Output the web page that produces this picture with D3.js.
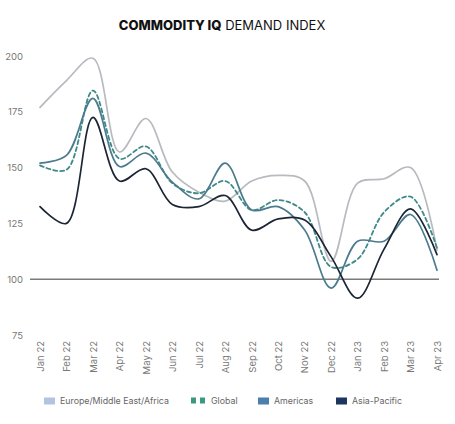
<!DOCTYPE html>
<html>
<head>
<meta charset="utf-8">
<script src="https://cdn.jsdelivr.net/npm/d3@7"></script>
<style>
  body { margin: 0; background: #fff; }
  svg { font-family: Inter, "Noto Sans", sans-serif; }
</style>
</head>
<body>
<div class="main"></div>
<script>
// month labels along the bottom
var months = ["Jan 22", "Feb 22", "Mar 22", "Apr 22", "May 22", "Jun 22", "Jul 22", "Aug 22",
              "Sep 22", "Oct 22", "Nov 22", "Dec 22", "Jan 23", "Feb 23", "Mar 23", "Apr 23"];
var yTicks = [75, 100, 125, 150, 175, 200];

// index values
var emea     = [177, 189, 199, 157, 172, 148, 139, 135, 144, 146.5, 144, 108, 143, 145, 150, 113];
var global   = [151, 149, 184.5, 154, 159.5, 143, 138.5, 144, 131, 135.5, 130, 105.5, 109, 130, 137, 114];
var americas = [152, 155.5, 181, 150.5, 156.5, 143.5, 136, 152, 131, 132.5, 122, 96, 117, 117, 129, 104];
var asiaPac  = [132.5, 125, 172.5, 144, 149.5, 133.5, 132.5, 137.5, 122, 127, 126.5, 110, 91.5, 113.5, 131.5, 111];

var series = [
  { name: "Europe/Middle East/Africa", values: emea,     color: "#b7babf", swatch: "#b3c3e2", dash: null },
  { name: "Global",                    values: global,   color: "#3f8a89", swatch: "#3a9a80", dash: "4,3" },
  { name: "Americas",                  values: americas, color: "#4c7b8e", swatch: "#4b7fae", dash: null },
  { name: "Asia-Pacific",              values: asiaPac,  color: "#1b2535", swatch: "#1e3560", dash: null }
];

var width = 455, height = 424;

var svg = d3.select(".main")
  .append("svg")
    .attr("width", width)
    .attr("height", height);

var x = d3.scalePoint()
  .domain(months)
  .range([40, 437]);

var y = d3.scaleLinear()
  .domain([75, 200])
  .range([335, 56]);

// title, bold part + regular part
var title = svg.append("text")
  .attr("x", 222)
  .attr("y", 30)
  .style("text-anchor", "middle")
  .style("font-size", "13px")
  .style("fill", "#111");
title.append("tspan").text("COMMODITY IQ").style("font-weight", "800");
title.append("tspan").text(" DEMAND INDEX").style("font-weight", "400");

// y axis, labels only
var yAxis = svg.append("g")
  .attr("transform", "translate(25,0)")
  .call(d3.axisLeft(y).tickValues(yTicks).tickSize(0).tickPadding(2));
yAxis.select(".domain").remove();
yAxis.selectAll("text")
  .style("font-size", "9.5px")
  .style("fill", "#777")
  .style("font-family", "Inter, sans-serif");

// baseline at 100
svg.append("line")
  .attr("x1", 30)
  .attr("x2", 439)
  .attr("y1", y(100))
  .attr("y2", y(100))
  .style("stroke", "#7b7b7b")
  .style("stroke-width", 1.6);

// x axis, rotated month labels
var xAxis = svg.append("g")
  .attr("transform", "translate(0,339)")
  .call(d3.axisBottom(x).tickSize(0).tickPadding(0));
xAxis.select(".domain").remove();
xAxis.selectAll("text")
  .attr("transform", "rotate(-90)")
  .attr("x", -2)
  .attr("y", 0)
  .attr("dy", "0.35em")
  .style("text-anchor", "end")
  .style("font-size", "9.5px")
  .style("fill", "#777")
  .style("font-family", "Inter, sans-serif");

var line = d3.line()
  .x(function(d, i) { return x(months[i]); })
  .y(function(d) { return y(d); })
  .curve(d3.curveCatmullRom.alpha(0.5));

svg.append("g")
  .selectAll("path")
  .data(series)
  .enter()
  .append("path")
    .attr("d", function(s) { return line(s.values); })
    .style("fill", "none")
    .style("stroke", function(s) { return s.color; })
    .style("stroke-width", function(s) { return s.dash ? 1.8 : 1.7; })
    .style("stroke-dasharray", function(s) { return s.dash; })
    .style("stroke-linecap", "round");

// legend
var legendX = [44, 191, 258, 336];
var legend = svg.append("g")
  .selectAll("g")
  .data(series)
  .enter()
  .append("g")
    .attr("transform", function(s, i) { return "translate(" + legendX[i] + ",401)"; });

legend.each(function(s) {
  var g = d3.select(this);
  if (s.dash) {
    g.append("rect").attr("x", 0).attr("y", -3.5).attr("width", 5).attr("height", 6).style("fill", s.swatch);
    g.append("rect").attr("x", 9).attr("y", -3.5).attr("width", 5).attr("height", 6).style("fill", s.swatch);
    g.append("text").attr("x", 20).attr("y", 0).attr("dy", "0.35em").text(s.name);
  } else {
    g.append("rect").attr("x", 0).attr("y", -3.5).attr("width", 11).attr("height", 7).style("fill", s.swatch);
    g.append("text").attr("x", 16).attr("y", 0).attr("dy", "0.35em").text(s.name);
  }
});
legend.selectAll("text")
  .style("font-size", "8.8px")
  .style("fill", "#666");
</script>
</body>
</html>
